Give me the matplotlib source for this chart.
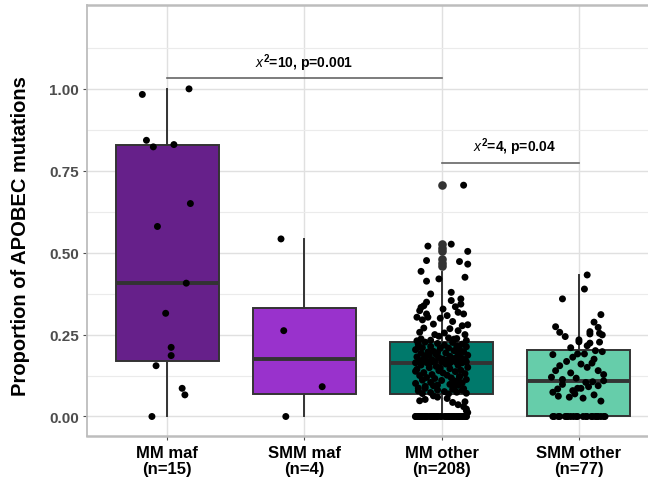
import matplotlib
matplotlib.use("Agg")
import matplotlib.pyplot as plt
from matplotlib.ticker import FixedLocator

plt.rcParams["font.family"] = ["Liberation Sans", "DejaVu Sans"]
plt.rcParams["mathtext.fontset"] = "custom"
plt.rcParams["mathtext.it"] = "Liberation Sans:italic"
plt.rcParams["mathtext.rm"] = "Liberation Sans:bold"
plt.rcParams["mathtext.bf"] = "Liberation Sans:bold"

# ── data ──────────────────────────────────────────────────────────────────
groups = ["MM maf\n(n=15)", "SMM maf\n(n=4)", "MM other\n(n=208)", "SMM other\n(n=77)"]
box_colors = ["#66208A", "#9932CC", "#00796B", "#66CDAA"]

# box statistics (q1, median, q3, lower whisker, upper whisker)
q1 = [0.168, 0.068, 0.068, 0.000]
med = [0.408, 0.177, 0.162, 0.107]
q3 = [0.829, 0.331, 0.227, 0.204]
whis_lo = [0.0, 0.0, 0.0, 0.0]
whis_hi = [1.0, 0.543, 0.440, 0.431]
fliers = [[], [], [0.706, 0.525, 0.515, 0.505, 0.480, 0.470, 0.460], []]

# jittered points
mm_maf = [0.983, 1.000, 0.843, 0.823, 0.830, 0.650, 0.580, 0.407, 0.315,
          0.211, 0.186, 0.155, 0.086, 0.066, 0.000]
mm_maf_dx = [-0.18, 0.16, -0.15, -0.10, 0.05, 0.17, -0.07, 0.14, -0.01,
             0.03, 0.03, -0.08, 0.11, 0.13, -0.11]

smm_maf = [0.542, 0.262, 0.091, 0.000]
smm_maf_dx = [-0.17, -0.15, 0.13, -0.135]

mm_other_hi = [0.706, 0.520, 0.526, 0.504, 0.476, 0.473, 0.465, 0.443, 0.413,
               0.420, 0.425, 0.374, 0.379, 0.354, 0.359, 0.349, 0.333, 0.338,
               0.335, 0.343, 0.328, 0.323, 0.313, 0.313, 0.303, 0.303, 0.300,
               0.308, 0.282, 0.277, 0.280, 0.257, 0.250, 0.250, 0.237, 0.240,
               0.238, 0.262, 0.270, 0.290, 0.245, 0.232, 0.255, 0.268, 0.295,
               0.318, 0.233, 0.236, 0.231]
mm_other_hi_dx = [0.16, -0.10, 0.07, 0.19, -0.11, 0.13, 0.19, -0.15, -0.11,
                  -0.02, 0.17, -0.08, 0.07, 0.07, 0.14, -0.11, -0.15, -0.13,
                  0.10, 0.14, 0.01, -0.16, -0.11, 0.16, -0.18, -0.10, -0.01,
                  0.04, -0.06, 0.15, 0.19, -0.16, -0.05, 0.17, -0.15, 0.05,
                  0.11, 0.12, -0.13, 0.08, -0.02, 0.18, 0.02, 0.06, -0.14,
                  0.12, -0.08, 0.09, -0.18]
mm_other_upper = [0.227, 0.226, 0.223, 0.221, 0.221, 0.218, 0.216, 0.214, 0.213,
                  0.210, 0.209, 0.208, 0.205, 0.204, 0.201, 0.199, 0.198, 0.197,
                  0.194, 0.193, 0.190, 0.189, 0.187, 0.186, 0.184, 0.182, 0.181,
                  0.180, 0.178, 0.176, 0.175, 0.174, 0.173, 0.172, 0.171, 0.170,
                  0.169, 0.168, 0.168, 0.167, 0.166, 0.166, 0.165, 0.165, 0.164,
                  0.164, 0.163, 0.195, 0.207, 0.185, 0.176, 0.212]
mm_other_lower = [0.162, 0.160, 0.157, 0.156, 0.153, 0.150, 0.149, 0.146, 0.144,
                  0.141, 0.140, 0.137, 0.134, 0.133, 0.131, 0.128, 0.126, 0.125,
                  0.122, 0.119, 0.118, 0.116, 0.113, 0.111, 0.110, 0.107, 0.104,
                  0.103, 0.101, 0.098, 0.096, 0.095, 0.092, 0.090, 0.087, 0.086,
                  0.083, 0.081, 0.080, 0.078, 0.076, 0.074, 0.073, 0.071, 0.070,
                  0.069, 0.148, 0.121, 0.138, 0.109, 0.094, 0.085]
mm_other_low = [0.059, 0.048, 0.045, 0.043, 0.023, 0.036, 0.052, 0.030, 0.012,
                0.063, 0.055, 0.018]
mm_other_low_dx = [-0.03, -0.16, 0.17, 0.08, 0.18, 0.12, -0.12, 0.16, 0.19,
                   -0.06, 0.04, 0.18]
mm_other_zeros = 43

smm_other_hi = [0.432, 0.389, 0.359, 0.311, 0.288, 0.274, 0.272, 0.257, 0.259,
                0.244, 0.252, 0.254, 0.249, 0.234, 0.224, 0.227]
smm_other_hi_dx = [0.06, 0.04, -0.12, 0.16, 0.11, -0.17, 0.14, -0.14, 0.08,
                   -0.10, 0.08, 0.15, 0.17, 0.00, 0.08, 0.15]
smm_other_mid = [0.228, 0.216, 0.198, 0.189, 0.181, 0.191, 0.191, 0.163, 0.155,
                 0.160, 0.140, 0.133, 0.140, 0.120, 0.113, 0.104, 0.106, 0.109,
                 0.094, 0.086, 0.074, 0.084, 0.079, 0.086, 0.059, 0.056, 0.066,
                 0.069, 0.210, 0.201, 0.175, 0.168, 0.150, 0.128, 0.117, 0.098,
                 0.091, 0.062, 0.047]
smm_other_mid_dx = [0.00, 0.06, 0.17, -0.19, -0.045, -0.01, 0.04, 0.095, -0.14,
                    0.015, -0.17, -0.06, 0.14, -0.20, -0.12, 0.05, 0.10, 0.18,
                    0.14, 0.015, -0.19, -0.155, -0.045, -0.01, -0.07, 0.03, 0.11,
                    -0.03, -0.06, 0.12, 0.11, -0.09, 0.06, 0.18, -0.02, -0.12,
                    0.07, -0.15, 0.16]
smm_other_zeros = 22

# jitter offsets used for the dense parts of the two big groups
JITTER = [-0.12, 0.08, -0.03, 0.15, -0.17, 0.02, 0.11, -0.08, 0.18, -0.14,
          0.05, -0.01, 0.13, -0.19, 0.09, -0.06, 0.16, -0.10, 0.03, -0.15,
          0.12, -0.04, 0.19, -0.09, 0.06, -0.18, 0.14, -0.02, 0.10, -0.13,
          0.01, 0.17, -0.07, 0.04, -0.16, 0.13, -0.11, 0.07, -0.05, 0.18,
          -0.14, 0.00, 0.11, -0.08, 0.15, -0.19, 0.06, -0.03, 0.12, -0.12,
          0.09, -0.17]


def spread(n, start):
    return [JITTER[(start + i) % len(JITTER)] for i in range(n)]


mm_other = mm_other_hi + mm_other_upper + mm_other_lower + mm_other_low + [0.0] * mm_other_zeros
mm_other_dx = (mm_other_hi_dx + spread(len(mm_other_upper), 0) + spread(len(mm_other_lower), 17)
               + mm_other_low_dx + spread(mm_other_zeros, 31))
smm_other = smm_other_hi + smm_other_mid + [0.0] * smm_other_zeros
smm_other_dx = smm_other_hi_dx + smm_other_mid_dx + spread(smm_other_zeros, 7)

points = [(mm_maf, mm_maf_dx), (smm_maf, smm_maf_dx),
          (mm_other, mm_other_dx), (smm_other, smm_other_dx)]

# ── plot ──────────────────────────────────────────────────────────────────
fig = plt.figure(figsize=(6.48, 4.81), dpi=100)
ax = fig.add_axes([87 / 648, 1 - 436.5 / 481, 1 - 87 / 648, 430.5 / 481])

stats = []
for i in range(4):
    stats.append(dict(q1=q1[i], med=med[i], q3=q3[i], whislo=whis_lo[i],
                      whishi=whis_hi[i], fliers=fliers[i]))

EDGE = "#333333"
bp = ax.bxp(stats, positions=[1, 2, 3, 4], widths=0.75, patch_artist=True,
            showcaps=False,
            boxprops=dict(edgecolor=EDGE, linewidth=1.4),
            medianprops=dict(color=EDGE, linewidth=2.8, solid_capstyle="butt"),
            whiskerprops=dict(color=EDGE, linewidth=1.4),
            flierprops=dict(marker="o", markerfacecolor=EDGE, markeredgecolor="none",
                            markersize=6.2))
for patch, c in zip(bp["boxes"], box_colors):
    patch.set_facecolor(c)

for i, (vals, dx) in enumerate(points):
    xs = [i + 1 + d for d in dx]
    ax.scatter(xs, vals, s=25, color="black", edgecolors="none", zorder=4)

# significance brackets
ax.plot([1, 3], [1.033, 1.033], color="#666666", lw=1.2)
ax.text(2, 1.081, r"$x^{2}$=10, p=0.001", ha="center", va="center",
        fontsize=10, fontweight="bold")
ax.plot([3, 4], [0.774, 0.774], color="#666666", lw=1.2)
ax.text(3.53, 0.826, r"$x^{2}$=4, p=0.04", ha="center", va="center",
        fontsize=10, fontweight="bold")

ax.set_xlim(0.417, 4.503)
ax.set_ylim(-0.058, 1.256)
ax.set_xticks([1, 2, 3, 4])
ax.set_xticklabels(groups, fontsize=12, fontweight="bold", color="black",
                   linespacing=1.1)
ax.set_yticks([0, 0.25, 0.5, 0.75, 1.0])
ax.set_yticklabels(["0.00", "0.25", "0.50", "0.75", "1.00"], fontsize=11,
                   fontweight="bold", color="#4D4D4D")
ax.yaxis.set_minor_locator(FixedLocator([0.125, 0.375, 0.625, 0.875, 1.125]))
ax.tick_params(axis="both", which="major", length=3, width=0.8, color="#4D4D4D")
ax.tick_params(axis="y", which="major", pad=3)
ax.tick_params(axis="x", which="major", pad=4)
ax.tick_params(axis="y", which="minor", length=0)

ax.set_axisbelow(True)
ax.grid(which="major", color="#E0E0E0", linewidth=1.0)
ax.grid(which="minor", axis="y", color="#EBEBEB", linewidth=0.8)

for side in ["left", "top", "bottom"]:
    ax.spines[side].set_color("#BDBDBD")
    ax.spines[side].set_linewidth(1.8)
ax.spines["left"].set_linewidth(1.3)
ax.spines["right"].set_visible(False)

fig.text(21 / 648, 1 - 236 / 481, "Proportion of APOBEC mutations", rotation=90,
         ha="center", va="center", fontsize=14.5, fontweight="bold")

fig.savefig("out.png", dpi=100)
